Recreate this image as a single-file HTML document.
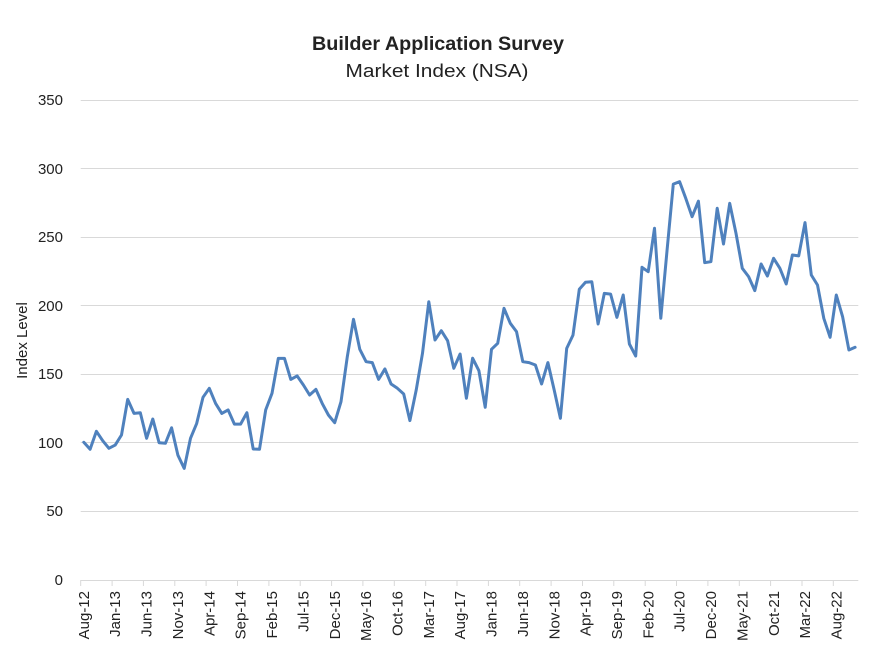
<!DOCTYPE html>
<html>
<head>
<meta charset="utf-8">
<style>
  html,body{margin:0;padding:0;background:#fff;}
  svg{display:block;}
  text{font-family:"Liberation Sans",Arial,sans-serif;fill:#222;}
</style>
</head>
<body>
<svg width="876" height="656" viewBox="0 0 876 656" xmlns="http://www.w3.org/2000/svg">
  <rect width="876" height="656" fill="#fff"/>
  <!-- titles -->
  <text x="438" y="50" text-anchor="middle" font-size="19" font-weight="bold" textLength="252" lengthAdjust="spacingAndGlyphs">Builder Application Survey</text>
  <text x="437" y="77" text-anchor="middle" font-size="18.5" textLength="183" lengthAdjust="spacingAndGlyphs">Market Index (NSA)</text>

  <!-- gridlines -->
  <g stroke="#d9d9d9" stroke-width="1">
    <line x1="80.7" y1="100.5" x2="858.3" y2="100.5"/>
    <line x1="80.7" y1="168.5" x2="858.3" y2="168.5"/>
    <line x1="80.7" y1="237.5" x2="858.3" y2="237.5"/>
    <line x1="80.7" y1="305.5" x2="858.3" y2="305.5"/>
    <line x1="80.7" y1="374.5" x2="858.3" y2="374.5"/>
    <line x1="80.7" y1="442.5" x2="858.3" y2="442.5"/>
    <line x1="80.7" y1="511.5" x2="858.3" y2="511.5"/>
    <line x1="80.7" y1="580.5" x2="858.3" y2="580.5"/>
  </g>
  <!-- x ticks -->
  <g stroke="#d9d9d9" stroke-width="1">
    <line x1="80.7" y1="580" x2="80.7" y2="586"/>
    <line x1="112.1" y1="580" x2="112.1" y2="586"/>
    <line x1="143.4" y1="580" x2="143.4" y2="586"/>
    <line x1="174.8" y1="580" x2="174.8" y2="586"/>
    <line x1="206.1" y1="580" x2="206.1" y2="586"/>
    <line x1="237.5" y1="580" x2="237.5" y2="586"/>
    <line x1="268.9" y1="580" x2="268.9" y2="586"/>
    <line x1="300.2" y1="580" x2="300.2" y2="586"/>
    <line x1="331.6" y1="580" x2="331.6" y2="586"/>
    <line x1="362.9" y1="580" x2="362.9" y2="586"/>
    <line x1="394.3" y1="580" x2="394.3" y2="586"/>
    <line x1="425.7" y1="580" x2="425.7" y2="586"/>
    <line x1="457.0" y1="580" x2="457.0" y2="586"/>
    <line x1="488.4" y1="580" x2="488.4" y2="586"/>
    <line x1="519.7" y1="580" x2="519.7" y2="586"/>
    <line x1="551.1" y1="580" x2="551.1" y2="586"/>
    <line x1="582.5" y1="580" x2="582.5" y2="586"/>
    <line x1="613.8" y1="580" x2="613.8" y2="586"/>
    <line x1="645.2" y1="580" x2="645.2" y2="586"/>
    <line x1="676.5" y1="580" x2="676.5" y2="586"/>
    <line x1="707.9" y1="580" x2="707.9" y2="586"/>
    <line x1="739.3" y1="580" x2="739.3" y2="586"/>
    <line x1="770.6" y1="580" x2="770.6" y2="586"/>
    <line x1="802.0" y1="580" x2="802.0" y2="586"/>
    <line x1="833.3" y1="580" x2="833.3" y2="586"/>
  </g>

  <!-- y tick labels -->
  <g font-size="15" text-anchor="end">
    <text x="63" y="105">350</text>
    <text x="63" y="174">300</text>
    <text x="63" y="242">250</text>
    <text x="63" y="311">200</text>
    <text x="63" y="379">150</text>
    <text x="63" y="448">100</text>
    <text x="63" y="516">50</text>
    <text x="63" y="585">0</text>
  </g>
  <!-- y axis title -->
  <text transform="translate(27,340.5) rotate(-90)" text-anchor="middle" font-size="15">Index Level</text>

  <!-- x tick labels -->
  <g font-size="15" text-anchor="end">
    <text transform="translate(89,591) rotate(-90)">Aug-12</text>
    <text transform="translate(120.2,591) rotate(-90)">Jan-13</text>
    <text transform="translate(151.6,591) rotate(-90)">Jun-13</text>
    <text transform="translate(183,591) rotate(-90)">Nov-13</text>
    <text transform="translate(214.3,591) rotate(-90)">Apr-14</text>
    <text transform="translate(245.7,591) rotate(-90)">Sep-14</text>
    <text transform="translate(277,591) rotate(-90)">Feb-15</text>
    <text transform="translate(308.4,591) rotate(-90)">Jul-15</text>
    <text transform="translate(339.8,591) rotate(-90)">Dec-15</text>
    <text transform="translate(371.1,591) rotate(-90)">May-16</text>
    <text transform="translate(402.5,591) rotate(-90)">Oct-16</text>
    <text transform="translate(433.8,591) rotate(-90)">Mar-17</text>
    <text transform="translate(465.2,591) rotate(-90)">Aug-17</text>
    <text transform="translate(496.6,591) rotate(-90)">Jan-18</text>
    <text transform="translate(527.9,591) rotate(-90)">Jun-18</text>
    <text transform="translate(559.3,591) rotate(-90)">Nov-18</text>
    <text transform="translate(590.6,591) rotate(-90)">Apr-19</text>
    <text transform="translate(622,591) rotate(-90)">Sep-19</text>
    <text transform="translate(653.4,591) rotate(-90)">Feb-20</text>
    <text transform="translate(684.7,591) rotate(-90)">Jul-20</text>
    <text transform="translate(716.1,591) rotate(-90)">Dec-20</text>
    <text transform="translate(747.4,591) rotate(-90)">May-21</text>
    <text transform="translate(778.8,591) rotate(-90)">Oct-21</text>
    <text transform="translate(810.2,591) rotate(-90)">Mar-22</text>
    <text transform="translate(841.5,591) rotate(-90)">Aug-22</text>
  </g>

  <!-- series -->
  <polyline fill="none" stroke="#4f81bd" stroke-width="3" stroke-linejoin="round" stroke-linecap="round" points="
83.8,442.3 90.1,449.3 96.4,431.3 102.7,440.7 108.9,448.3 115.2,445.1 121.5,435 127.7,399.4 134.0,413.4 140.3,412.7
146.6,438.3 152.8,419 159.1,442.7 165.4,443.3 171.6,427.8 177.9,455.2 184.2,468.4 190.5,438.3 196.7,423.4 203.0,397.3
209.3,388.3 215.6,403.4 221.8,413.4 228.1,409.9 234.4,424.1 240.6,424.1 246.9,412.7 253.2,449 259.5,449.3 265.7,409.9
272.0,393.3 278.3,358.4 284.5,358.4 290.8,379.4 297.1,375.9 303.4,385 309.6,395 315.9,389.4 322.2,403.4 328.4,415
334.7,422.7 341.0,401.7 347.3,356.7 353.5,319.3 359.8,349.3 366.1,361.7 372.3,362.6 378.6,379.4 384.9,368.9 391.1,384
397.4,388.3 403.7,394 409.9,420.6 416.2,390.1 422.5,353.3 428.8,301.7 435.0,340 441.3,330.7 447.6,340.7 453.8,368.3
460.1,354 466.4,398.3 472.6,358.2 478.9,370.7 485.2,407.3 491.5,349.3 497.7,343.3 504.0,308.3 510.3,323.3 516.5,331.6
522.8,361.7 529.1,362.6 535.4,365 541.6,384 547.9,362.6 554.2,390.1 560.4,418.3 566.7,348.4 573.0,335.1 579.3,289.3
585.5,282.3 591.8,281.7 598.1,324 604.3,293.4 610.6,294.1 616.9,317.4 623.2,295 629.4,344 635.7,356 642.0,267.3
648.2,271.7 654.5,228.2 660.8,318.3 667.0,250.9 673.3,184.1 679.6,181.7 685.9,198.7 692.1,216.7 698.4,201.2 704.7,262.6
710.9,261.7 717.2,208.3 723.5,244 729.7,203.3 736.0,233.3 742.3,268.3 748.6,276.6 754.8,290.6 761.1,264 767.4,276
773.6,258.3 779.9,268.3 786.2,284 792.4,255 798.7,255.9 805.0,222.6 811.3,275 817.5,285 823.8,318.3 830.1,337.3
836.3,295 842.6,316.7 848.9,350 855.1,347.3"/>
</svg>
</body>
</html>
